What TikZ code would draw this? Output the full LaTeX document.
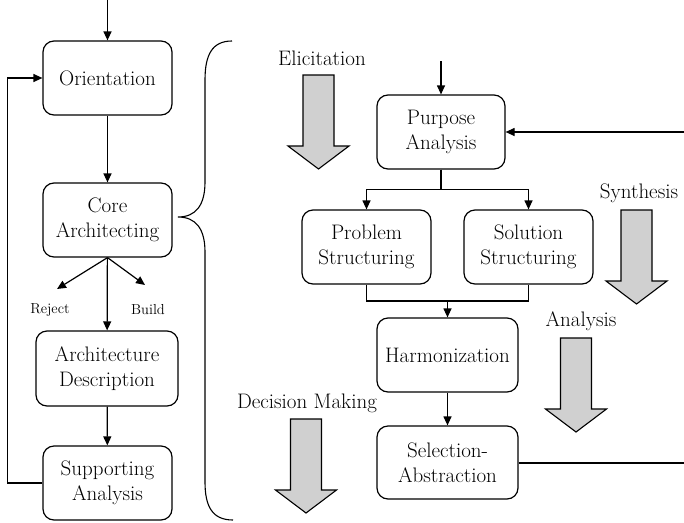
\documentclass[tikz,border=0pt]{standalone}
\usetikzlibrary{arrows.meta}
\definecolor{arrowgray}{RGB}{208,208,208}
\tikzset{
  every picture/.style={x=1pt,y=-1pt,line width=1.2pt},
  stage/.style={draw,rounded corners=11pt,align=center,inner sep=0pt,
    font=\fontsize{21}{25}\selectfont},
  lbl/.style={font=\fontsize{21}{25}\selectfont,inner sep=0pt},
  smalllbl/.style={font=\fontsize{14.5}{17}\selectfont,inner sep=0pt},
  flow/.style={-{Triangle[length=9pt,width=8pt]}},
  blockdown/.pic={
    \draw[fill=arrowgray,line width=1.1pt]
      (-15.5,0) -- (15.5,0) -- (15.5,71) -- (30.5,71) -- (0,94)
      -- (-30.5,71) -- (-15.5,71) -- cycle;
  }
}
\begin{document}
\begin{tikzpicture}
\useasboundingbox (0,0) rectangle (684,522);

% left-hand process
\node[stage,minimum width=129pt,minimum height=74pt] (orient) at (107.5,78) {Orientation};
\node[stage,minimum width=129pt,minimum height=74pt] (core) at (107.5,220) {Core\\Architecting};
\node[stage,minimum width=142pt,minimum height=75pt] (archdesc) at (107,368.5) {Architecture\\Description};
\node[stage,minimum width=129pt,minimum height=74pt] (support) at (107.5,483) {Supporting\\Analysis};

\coordinate (leftin) at (107.5,0);
\coordinate (rejtip) at (57,289);
\coordinate (buildtip) at (145,285);
\node[smalllbl] (rejlbl) at (50,310) {Reject};
\node[smalllbl] (buildlbl) at (148,310) {Build};

\draw[flow] (leftin) -- (orient);
\draw[flow] (orient) -- (core);
\draw[flow] (core) -- (archdesc);
\draw[flow] (core.south) -- (rejtip);
\draw[flow] (core.south) -- (buildtip);
\draw[flow] (archdesc) -- (support);
\draw[flow] (support.west) -- ++(-35,0) |- (orient.west);

% brace expanding the core step
\draw[line width=1.1pt] (232,41) .. controls (212,41) and (205,55) .. (205,80)
  -- (205,182) .. controls (205,205) and (196,217) .. (178,217)
  .. controls (196,217) and (205,229) .. (205,252)
  -- (205,482) .. controls (205,506) and (212,520) .. (233,520);

% right-hand detail
\node[stage,minimum width=128pt,minimum height=74pt] (purpose) at (441,132) {Purpose\\Analysis};
\node[stage,minimum width=129pt,minimum height=74pt] (problem) at (366.5,247) {Problem\\Structuring};
\node[stage,minimum width=129pt,minimum height=74pt] (solution) at (528.5,247) {Solution\\Structuring};
\node[stage,minimum width=141pt,minimum height=74pt] (harmon) at (447.5,355) {Harmonization};
\node[stage,minimum width=141pt,minimum height=73pt] (select) at (447.5,462.5) {Selection-\\Abstraction};

\coordinate (rightin) at (441,61);
\coordinate (loopin) at (684,132);
\coordinate (merge) at (447.5,301);
\coordinate (loopout) at (684,463);

\draw[flow] (rightin) -- (purpose);
\draw[flow] (loopin) -- (purpose.east);
\draw[flow] (purpose.south) -- ++(0,20) -| (problem.north);
\draw[flow] (purpose.south) -- ++(0,20) -| (solution.north);
\draw (problem.south) |- (merge) -| (solution.south);
\draw[flow] (merge) -- (harmon.north);
\draw[flow] (harmon) -- (select);
\draw (select.east |- loopout) -- (loopout);

% activity arrows
\node[lbl] (elic) at (322,58) {Elicitation};
\pic at (318.5,75) {blockdown};
\node[lbl] (synth) at (639,193) {Synthesis};
\pic at (636.5,210) {blockdown};
\node[lbl] (anal) at (581,321) {Analysis};
\pic at (576,338) {blockdown};
\node[lbl] (decide) at (307,403) {Decision Making};
\pic at (306,419) {blockdown};
\end{tikzpicture}
\end{document}
